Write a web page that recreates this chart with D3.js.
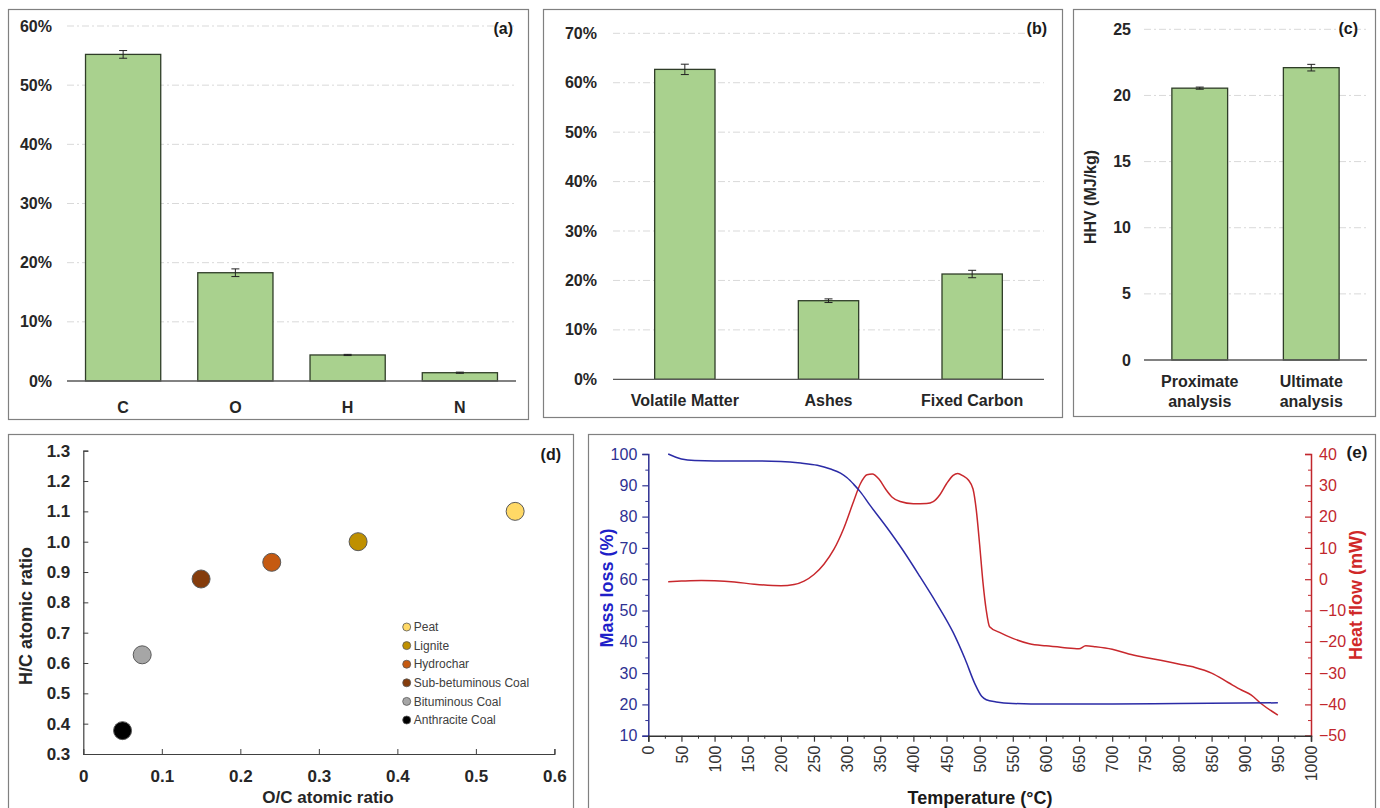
<!DOCTYPE html>
<html>
<head>
<meta charset="utf-8">
<script src="https://cdn.jsdelivr.net/npm/d3@7"></script>
<style>
  body { margin: 0; background: #fff; }
  svg { display: block; font-family: Arial, "Liberation Sans", sans-serif; }
</style>
</head>
<body>
<svg id="fig"></svg>
<script>
const width = 1380, height = 808;

// (a) ultimate analysis
const elemCats = ["C", "O", "H", "N"];
const elemVals = [0.552, 0.183, 0.044, 0.014];
const elemErr = [0.0065, 0.0065, 0.001, 0.001];

// (b) proximate analysis
const proxCats = ["Volatile Matter", "Ashes", "Fixed Carbon"];
const proxVals = [0.627, 0.159, 0.213];
const proxErr = [0.0105, 0.0037, 0.0075];

// (c) HHV
const hhvCats = ["Proximate analysis", "Ultimate analysis"];
const hhvVals = [20.55, 22.1];
const hhvErr = [0.08, 0.25];

// (d) van Krevelen
const fuelNames = ["Peat", "Lignite", "Hydrochar", "Sub-betuminous Coal", "Bituminous Coal", "Anthracite Coal"];
const fuelOC = [0.55, 0.35, 0.24, 0.15, 0.075, 0.05];
const fuelHC = [1.10, 1.00, 0.932, 0.877, 0.627, 0.377];
const fuelColors = ["#ffd966", "#bf9000", "#c55a11", "#843c0c", "#a6a6a6", "#000000"];

// (e) TGA / DSC
const tgaTemp = [30, 50, 70, 100, 150, 200, 230, 255, 275, 290, 300, 310, 320, 335, 360, 385, 410, 435, 460, 478, 493, 503, 510, 525, 550, 600, 700, 800, 950];
const tgaMass = [100, 98.4, 97.9, 97.8, 97.8, 97.6, 97.1, 96.4, 95.2, 93.9, 92.4, 90.3, 87.9, 83.5, 76.5, 69, 60.8, 52.3, 43, 34.5, 26.5, 22.6, 21.5, 20.8, 20.3, 20.1, 20.1, 20.3, 20.5];
const dscTemp = [30, 50, 80, 100, 130, 160, 200, 220, 235, 250, 265, 280, 295, 310, 320, 330, 338, 348, 358, 368, 380, 400, 420, 430, 440, 450, 460, 467, 475, 483, 490, 495, 500, 505, 510, 515, 530, 550, 575, 600, 625, 650, 660, 675, 700, 725, 750, 775, 800, 825, 850, 875, 895, 910, 925, 950];
const dscHeat = [-0.8, -0.6, -0.4, -0.5, -0.9, -1.6, -2.1, -1.7, -0.6, 1.5, 4.8, 9.5, 16.3, 25, 30.5, 33.4, 33.6, 32, 28.8, 26.2, 24.8, 24.1, 24.2, 24.8, 27, 30.5, 33.2, 33.8, 33, 31.7, 28.8, 22, 11, -1, -10, -15.2, -17, -18.9, -20.6, -21.3, -21.8, -22.2, -21.3, -21.6, -22.4, -23.9, -25, -26, -27.1, -28.2, -30, -33, -35.4, -37, -39.8, -43.4];

const svg = d3.select("#fig").attr("width", width).attr("height", height);
svg.append("rect").attr("width", width).attr("height", height).attr("fill", "#fff");

// panel frames
const frames = [[8, 9, 520, 410], [543, 9, 519, 408], [1073, 9, 302, 407], [8, 434, 565, 390], [588, 434, 787, 390]];
svg.selectAll("rect.frame").data(frames).enter().append("rect")
    .attr("class", "frame")
    .attr("x", d => d[0] + 0.5).attr("y", d => d[1] + 0.5)
    .attr("width", d => d[2]).attr("height", d => d[3])
    .attr("fill", "none").attr("stroke", "#808080").attr("stroke-width", 1.2);

// generic bar panel
function barPanel(opt) {
    const g = svg.append("g");
    const x = d3.scaleBand().domain(opt.cats).range([opt.x0, opt.x1]).paddingInner(opt.pad).paddingOuter(opt.pad / 2);
    const y = d3.scaleLinear().domain([0, opt.ymax]).range([opt.y0, opt.y1]);
    const ticks = d3.range(0, opt.ymax + opt.step / 2, opt.step);

    g.selectAll("line.grid").data(ticks.slice(1)).enter().append("line")
        .attr("x1", opt.x0).attr("x2", opt.x1)
        .attr("y1", d => y(d)).attr("y2", d => y(d))
        .attr("stroke", "#d9d9d9").attr("stroke-width", 1)
        .attr("stroke-dasharray", "7,3,2,3");

    const ax = g.append("g").attr("transform", `translate(${opt.x0},0)`)
        .call(d3.axisLeft(y).tickValues(ticks).tickSize(0).tickPadding(opt.tickPad).tickFormat(opt.fmt));
    ax.select(".domain").remove();
    ax.selectAll("text").attr("font-size", 16).attr("font-weight", "bold").attr("fill", "#262626")
        .attr("font-family", "Arial, 'Liberation Sans', sans-serif");

    g.selectAll("rect.bar").data(opt.cats).enter().append("rect")
        .attr("x", d => x(d)).attr("width", x.bandwidth())
        .attr("y", (d, i) => y(opt.vals[i]))
        .attr("height", (d, i) => opt.y0 - y(opt.vals[i]))
        .attr("fill", "#a9d18e").attr("stroke", "#2f3d28").attr("stroke-width", 1.3);

    g.append("line").attr("x1", opt.x0).attr("x2", opt.x1)
        .attr("y1", opt.y0).attr("y2", opt.y0).attr("stroke", "#595959").attr("stroke-width", 1.3);

    // error bars
    opt.cats.forEach((c, i) => {
        const cx = x(c) + x.bandwidth() / 2;
        const lo = y(opt.vals[i] - opt.err[i]), hi = y(opt.vals[i] + opt.err[i]);
        g.append("line").attr("x1", cx).attr("x2", cx).attr("y1", lo).attr("y2", hi).attr("stroke", "#222").attr("stroke-width", 1);
        [lo, hi].forEach(yy => g.append("line").attr("x1", cx - 4).attr("x2", cx + 4).attr("y1", yy).attr("y2", yy).attr("stroke", "#222").attr("stroke-width", 1));
    });

    // category labels
    opt.cats.forEach(c => {
        const lines = opt.wrap ? c.split(" ") : [c];
        const t = g.append("text").attr("x", x(c) + x.bandwidth() / 2).attr("y", opt.y0 + opt.labOff)
            .attr("text-anchor", "middle").attr("font-size", 16).attr("font-weight", "bold").attr("fill", "#262626");
        lines.forEach((l, k) => t.append("tspan").attr("x", x(c) + x.bandwidth() / 2).attr("dy", k ? 20 : 0).text(l));
    });

    g.append("text").attr("x", opt.tagX).attr("y", opt.tagY).attr("text-anchor", "end")
        .attr("font-size", 16).attr("font-weight", "bold").attr("fill", "#1a1a1a").text(opt.tag);
    return g;
}

const pct = d3.format(".0%");

barPanel({ cats: elemCats, vals: elemVals, err: elemErr, x0: 67, x1: 516, y0: 381, y1: 26, ymax: 0.6, step: 0.1,
    pad: 0.33, fmt: pct, tickPad: 15, labOff: 32, tag: "(a)", tagX: 513, tagY: 34 });

barPanel({ cats: proxCats, vals: proxVals, err: proxErr, x0: 613, x1: 1044, y0: 379.3, y1: 33.3, ymax: 0.7, step: 0.1,
    pad: 0.58, fmt: pct, tickPad: 16, labOff: 27, tag: "(b)", tagX: 1047, tagY: 34 });

const gc = barPanel({ cats: hhvCats, vals: hhvVals, err: hhvErr, x0: 1144, x1: 1367, y0: 360, y1: 29.3, ymax: 25, step: 5,
    pad: 0.5, fmt: d3.format("d"), tickPad: 13, labOff: 27, wrap: true, tag: "(c)", tagX: 1358, tagY: 34 });
gc.append("text").attr("transform", "translate(1096,197) rotate(-90)").attr("text-anchor", "middle")
    .attr("font-size", 16).attr("font-weight", "bold").attr("fill", "#262626").text("HHV (MJ/kg)");

// (d) scatter
{
    const g = svg.append("g");
    const x = d3.scaleLinear().domain([0, 0.6]).range([83.3, 554.4]);
    const y = d3.scaleLinear().domain([0.3, 1.3]).range([754, 450.7]);

    const ya = g.append("g").attr("transform", "translate(83.3,0)")
        .call(d3.axisLeft(y).tickValues(d3.range(0.3, 1.31, 0.1)).tickSize(-5).tickPadding(13).tickFormat(d3.format(".1f")));
    const xa = g.append("g").attr("transform", "translate(0,754)")
        .call(d3.axisBottom(x).tickValues(d3.range(0, 0.61, 0.1)).tickSize(-5).tickPadding(16)
            .tickFormat(d => d === 0 ? "0" : d3.format(".1f")(d)));
    [ya, xa].forEach(a => {
        a.select(".domain").attr("stroke", "#404040").attr("stroke-width", 1.2);
        a.selectAll(".tick line").attr("stroke", "#404040");
        a.selectAll("text").attr("font-size", 17).attr("font-weight", "bold").attr("fill", "#262626")
            .attr("font-family", "Arial, 'Liberation Sans', sans-serif");
    });
    xa.selectAll(".tick").filter(d => d === 0).select("line").remove();

    g.selectAll("circle.pt").data(fuelNames).enter().append("circle")
        .attr("cx", (d, i) => x(fuelOC[i])).attr("cy", (d, i) => y(fuelHC[i])).attr("r", 9)
        .attr("fill", (d, i) => fuelColors[i]).attr("stroke", "#595959").attr("stroke-width", 1);

    const lg = g.append("g").attr("transform", "translate(406.7,627)");
    fuelNames.forEach((n, i) => {
        lg.append("circle").attr("cx", 0).attr("cy", i * 18.6).attr("r", 4)
            .attr("fill", fuelColors[i]).attr("stroke", "#595959").attr("stroke-width", 0.8);
        lg.append("text").attr("x", 7).attr("y", i * 18.6).attr("dy", "0.35em")
            .attr("font-size", 12).attr("fill", "#404040").text(n);
    });

    g.append("text").attr("transform", "translate(32,616) rotate(-90)").attr("text-anchor", "middle")
        .attr("font-size", 18).attr("font-weight", "bold").attr("fill", "#262626").text("H/C atomic ratio");
    g.append("text").attr("x", 328).attr("y", 803).attr("text-anchor", "middle")
        .attr("font-size", 17).attr("font-weight", "bold").attr("fill", "#262626").text("O/C atomic ratio");
    g.append("text").attr("x", 561).attr("y", 460).attr("text-anchor", "end")
        .attr("font-size", 16).attr("font-weight", "bold").attr("fill", "#1a1a1a").text("(d)");
}

// (e) TGA + DSC
{
    const g = svg.append("g");
    const blue = "#2e3192", red = "#c1272d";
    const x = d3.scaleLinear().domain([0, 1000]).range([648.3, 1311]);
    const yM = d3.scaleLinear().domain([10, 100]).range([735.7, 454]);
    const yH = d3.scaleLinear().domain([-50, 40]).range([735.7, 454]);

    // minor ticks
    g.append("g").attr("transform", "translate(648.3,0)")
        .call(d3.axisLeft(yM).tickValues(d3.range(15, 100, 10)).tickSize(3).tickFormat(""))
        .call(a => a.select(".domain").remove()).selectAll("line").attr("stroke", blue);
    g.append("g").attr("transform", "translate(1311,0)")
        .call(d3.axisRight(yH).tickValues(d3.range(-45, 40, 10)).tickSize(-3).tickFormat(""))
        .call(a => a.select(".domain").remove()).selectAll("line").attr("stroke", red);
    g.append("g").attr("transform", "translate(0,735.7)")
        .call(d3.axisBottom(x).tickValues(d3.range(25, 1000, 50)).tickSize(3).tickFormat(""))
        .call(a => a.select(".domain").remove()).selectAll("line").attr("stroke", "#333");

    const la = g.append("g").attr("transform", "translate(648.3,0)")
        .call(d3.axisLeft(yM).tickValues(d3.range(10, 101, 10)).tickSize(6).tickPadding(5));
    la.select(".domain").attr("stroke", blue).attr("stroke-width", 1.5);
    la.selectAll(".tick line").attr("stroke", blue).attr("stroke-width", 1.2);
    la.selectAll("text").attr("fill", blue).attr("font-size", 16).attr("font-family", "Arial, 'Liberation Sans', sans-serif");

    const ra = g.append("g").attr("transform", "translate(1311,0)")
        .call(d3.axisRight(yH).tickValues(d3.range(-50, 41, 10)).tickSize(-6).tickPadding(8));
    ra.select(".domain").attr("stroke", red).attr("stroke-width", 1.5);
    ra.selectAll(".tick line").attr("stroke", red).attr("stroke-width", 1.2);
    ra.selectAll("text").attr("fill", red).attr("font-size", 16).attr("font-family", "Arial, 'Liberation Sans', sans-serif");

    const ba = g.append("g").attr("transform", "translate(0,735.7)")
        .call(d3.axisBottom(x).tickValues(d3.range(0, 1001, 50)).tickSize(6).tickPadding(0).tickFormat(d3.format("d")));
    ba.select(".domain").attr("stroke", "#333").attr("stroke-width", 1.5);
    ba.selectAll(".tick line").attr("stroke", "#333").attr("stroke-width", 1.2);
    ba.selectAll("text").attr("fill", "#333").attr("font-size", 16).attr("font-family", "Arial, 'Liberation Sans', sans-serif")
        .attr("text-anchor", "end").attr("dy", "0.35em").attr("y", 0)
        .attr("transform", "translate(0,10) rotate(-90)");

    const heatLine = d3.line().x((d, i) => x(dscTemp[i])).y(d => yH(d)).curve(d3.curveMonotoneX);
    const massLine = d3.line().x((d, i) => x(tgaTemp[i])).y(d => yM(d)).curve(d3.curveMonotoneX);
    g.append("path").attr("d", heatLine(dscHeat)).attr("fill", "none").attr("stroke", "#c8282d").attr("stroke-width", 1.5);
    g.append("path").attr("d", massLine(tgaMass)).attr("fill", "none").attr("stroke", "#2b2ba6").attr("stroke-width", 1.5);

    g.append("text").attr("transform", "translate(613,588) rotate(-90)").attr("text-anchor", "middle")
        .attr("font-size", 18).attr("font-weight", "bold").attr("fill", "#1f1fc8").text("Mass loss (%)");
    g.append("text").attr("transform", "translate(1362,595) rotate(-90)").attr("text-anchor", "middle")
        .attr("font-size", 18).attr("font-weight", "bold").attr("fill", "#d02828").text("Heat flow (mW)");
    g.append("text").attr("x", 980).attr("y", 804).attr("text-anchor", "middle")
        .attr("font-size", 18).attr("font-weight", "bold").attr("fill", "#1a1a1a").text("Temperature (°C)");
    g.append("text").attr("x", 1357).attr("y", 458).attr("text-anchor", "middle")
        .attr("font-size", 17).attr("font-weight", "bold").attr("fill", "#1a1a1a").text("(e)");
}
</script>
</body>
</html>
